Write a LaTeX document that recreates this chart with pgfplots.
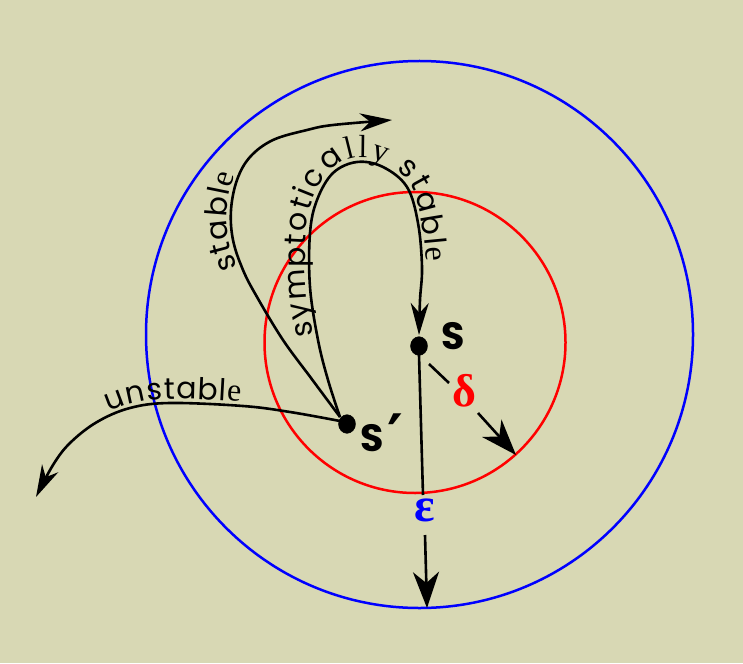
\documentclass[border=0pt]{standalone}
\usepackage{fontspec}
\setmainfont{Poppins}
\newfontfamily\serifam{Liberation Serif}
\newfontfamily\djfam{DejaVu Sans}
\usepackage{pgfplots}
\pgfplotsset{compat=1.18}
\usetikzlibrary{arrows.meta,decorations.text}
\definecolor{bgcol}{RGB}{216,216,180}
\def\A{\fontsize{30}{34}\selectfont\rmfamily\kern0.8pt}
\def\B{\fontsize{32}{34}\selectfont\serifam\kern0.8pt}
\def\C{\fontsize{30}{34}\selectfont\rmfamily\kern1.5pt}
\def\D{\fontsize{32}{34}\selectfont\serifam\kern1.5pt}
\begin{document}
\begin{tikzpicture}
\begin{axis}[
  scale only axis, width=743pt, height=663pt,
  xmin=0, xmax=743, ymin=0, ymax=663, y dir=reverse,
  axis lines=none, clip=false]
\fill[bgcol] (axis cs:0,0) rectangle (axis cs:743,663);
% circles
\draw[blue, line width=2.5pt] (axis cs:419.5,334.5) circle[radius=273.5];
\draw[red, line width=2.5pt] (axis cs:415,342.5) circle[radius=150.5];
% outer stable curve
\addplot[black, mark=none, line width=2.6pt, smooth, tension=0.6, -{Stealth[length=32pt,width=18pt,inset=10pt]}]
  coordinates {(340,417) (311,378) (283,340) (257,297) (243,270) (233,240) (231,210) (237,180) (250,157) (273,140) (307,130) (333,125) (392,120)};
\addplot[draw=none, mark=none, smooth, tension=0.6,
  postaction={decorate, decoration={text along path, raise=4pt, text align={left indent=180pt},
  text={|\A|stabl|\B|e}}}]
  coordinates {(340,417) (311,378) (283,340) (257,297) (243,270) (233,240) (231,210) (237,180) (250,157) (273,140) (307,130) (333,125) (392,120)};
% inner loop
\addplot[black, mark=none, line width=2.6pt, smooth, tension=0.6, -{Stealth[length=32pt,width=18pt,inset=10pt]}]
  coordinates {(340,417) (328,380) (318,340) (310,287) (310,233) (317,200) (333,173) (357,162) (383,167) (407,187) (418,223) (422,267) (420,300) (419,335)};
\addplot[draw=none, mark=none, smooth, tension=0.6,
  postaction={decorate, decoration={text along path, raise=4pt, text align={left indent=84pt},
  text={|\C|symptotica|\D|lly |\C|stabl|\D|e}}}]
  coordinates {(340,417) (328,380) (318,340) (310,287) (310,233) (317,200) (333,173) (357,162) (383,167) (407,187) (418,223) (422,267) (420,300) (419,335)};
% unstable curve
\addplot[black, mark=none, line width=2.6pt, smooth, tension=0.6, -{Stealth[length=32pt,width=18pt,inset=10pt]}]
  coordinates {(340,421) (290,412) (243,406) (170,403) (130,408) (97,422) (70,443) (53,465) (36,497)};
\addplot[draw=none, mark=none, smooth, tension=0.6,
  postaction={decorate, decoration={text along path, raise=4pt, text align={left indent=112pt},
  text={|\A|unstabl|\B|e}}}]
  coordinates {(36,497) (53,465) (70,443) (97,422) (130,408) (170,403) (243,406) (290,412) (340,421)};
% straight lines
\addplot[black, mark=none, line width=2.6pt] coordinates {(419,355) (423,495)};
\addplot[black, mark=none, line width=2.6pt] coordinates {(429,364) (449,383)};
\addplot[black, mark=none, line width=2.6pt, -{Stealth[length=36pt,width=26pt,inset=11pt]}] coordinates {(425,535) (427,608)};
\addplot[black, mark=none, line width=2.6pt, -{Stealth[length=36pt,width=26pt,inset=11pt]}] coordinates {(478,413) (516,455)};
% dots
\addplot[only marks, mark=*, mark size=8.5pt, mark options={black, yscale=1.1}] coordinates {(419,346) (347,424)};
% labels
\node[font=\fontsize{38}{42}\selectfont\bfseries] at (axis cs:453,336) {S};
\node[font=\fontsize{38}{42}\selectfont\bfseries] at (axis cs:372,438) {S};
\node[anchor=north, inner sep=0pt, font=\fontsize{60}{64}\selectfont\djfam\bfseries] at (axis cs:395,414) {′};
\node[red, font=\fontsize{46}{50}\selectfont\serifam\bfseries] at (axis cs:464,391) {δ};
\node[blue, font=\fontsize{48}{52}\selectfont\serifam\bfseries] at (axis cs:425,510) {ε};
\end{axis}
\end{tikzpicture}
\end{document}
